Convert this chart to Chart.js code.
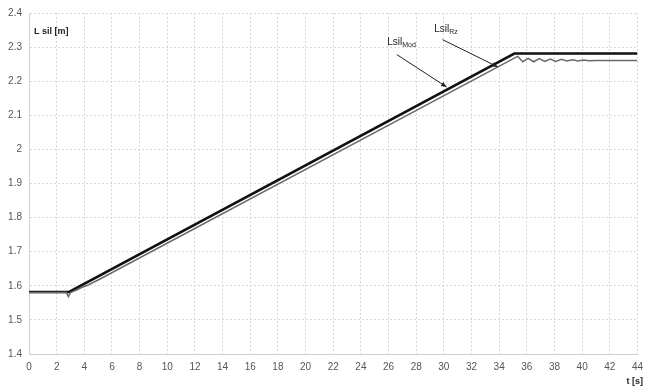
<!DOCTYPE html>
<html>
<head>
<meta charset="utf-8">
<script src="https://cdn.jsdelivr.net/npm/chart.js@4.4.1/dist/chart.umd.min.js"></script>
<style>
  html, body { margin: 0; padding: 0; background: #fff; }
  #wrap { width: 650px; height: 389px; }
</style>
</head>
<body>
<div id="wrap"><canvas id="myChart"></canvas></div>
<script>
// L sil model (black line)
var tMod = [0, 2.9, 35.1, 44];
var lMod = [1.582, 1.582, 2.281, 2.281];

// L sil measured (grey line)
var tRz = [0, 2.7, 2.85, 3.0, 3.4, 3.8, 4.2, 4.6, 5.0, 35.2, 35.35, 35.7, 36.1, 36.5, 36.9, 37.3, 37.7, 38.1, 38.5, 38.9, 39.3, 39.7, 40.1, 40.5, 41.0, 44];
var lRz = [1.580, 1.580, 1.568, 1.580, 1.587, 1.595, 1.601, 1.609, 1.617, 2.270, 2.273, 2.257, 2.267, 2.257, 2.266, 2.258, 2.265, 2.258, 2.264, 2.259, 2.263, 2.259, 2.262, 2.260, 2.261, 2.261];

var xTicks = [0, 2, 4, 6, 8, 10, 12, 14, 16, 18, 20, 22, 24, 26, 28, 30, 32, 34, 36, 38, 40, 42, 44];

// label positions [t, L] and arrow [from t, from L, to t, to L]
var labels = [
  {main: 'Lsil', sub: 'Mod', at: [25.9, 2.305], arrow: [26.6, 2.278, 30.2, 2.183]},
  {main: 'Lsil', sub: 'Rz', at: [29.3, 2.345], arrow: [29.9, 2.322, 33.9, 2.242]}
];

function pts(xs, ys) {
  var out = [];
  for (var i = 0; i < xs.length; i++) out.push({x: xs[i], y: ys[i]});
  return out;
}

var notes = {
  id: 'notes',
  afterDatasetsDraw: function(chart) {
    var ctx = chart.ctx, xs = chart.scales.x, ys = chart.scales.y;
    ctx.save();
    ctx.fillStyle = '#222';
    ctx.font = 'bold 9px Arial, "Liberation Sans", sans-serif';
    ctx.textBaseline = 'alphabetic';
    ctx.fillText('L sil [m]', chart.chartArea.left + 5, 34);
    ctx.textAlign = 'right';
    ctx.fillText('t [s]', 643, 384);
    ctx.textAlign = 'left';
    labels.forEach(function(l) {
      var x = xs.getPixelForValue(l.at[0]), y = ys.getPixelForValue(l.at[1]);
      ctx.font = '10px Arial, "Liberation Sans", sans-serif';
      ctx.fillStyle = '#222';
      ctx.fillText(l.main, x, y);
      var w = ctx.measureText(l.main).width;
      ctx.font = '7px Arial, "Liberation Sans", sans-serif';
      ctx.fillText(l.sub, x + w, y + 2);
      var x1 = xs.getPixelForValue(l.arrow[0]), y1 = ys.getPixelForValue(l.arrow[1]);
      var x2 = xs.getPixelForValue(l.arrow[2]), y2 = ys.getPixelForValue(l.arrow[3]);
      ctx.strokeStyle = '#222';
      ctx.lineWidth = 1;
      ctx.beginPath();
      ctx.moveTo(x1, y1);
      ctx.lineTo(x2, y2);
      ctx.stroke();
      var a = Math.atan2(y2 - y1, x2 - x1);
      ctx.beginPath();
      ctx.moveTo(x2, y2);
      ctx.lineTo(x2 - 6 * Math.cos(a - 0.4), y2 - 6 * Math.sin(a - 0.4));
      ctx.lineTo(x2 - 6 * Math.cos(a + 0.4), y2 - 6 * Math.sin(a + 0.4));
      ctx.closePath();
      ctx.fill();
    });
    ctx.restore();
  }
};

new Chart("myChart", {
  type: "line",
  data: {
    datasets: [{
      data: pts(tRz, lRz),
      borderColor: "#6a6a6a",
      borderWidth: 1.5,
      pointRadius: 0,
      tension: 0,
      fill: false,
      label: 'LsilRz'
    }, {
      data: pts(tMod, lMod),
      borderColor: "#111",
      borderWidth: 2.5,
      pointRadius: 0,
      tension: 0,
      fill: false,
      label: 'LsilMod'
    }]
  },
  options: {
    responsive: true,
    maintainAspectRatio: false,
    animation: false,
    layout: {padding: {top: 8, right: 5, left: 0, bottom: 0}},
    plugins: {legend: {display: false}, tooltip: {enabled: false}},
    scales: {
      x: {
        type: 'linear',
        min: 0, max: 44,
        afterBuildTicks: function(s) { s.ticks = xTicks.map(function(v) { return {value: v}; }); },
        afterFit: function(s) { s.height = 35; },
        grid: {color: '#d8d8d8', drawTicks: false},
        border: {color: '#cfcfcf', dash: [2, 2]},
        ticks: {color: '#555', font: {size: 10, family: 'Arial'}, padding: 7, maxRotation: 0}
      },
      y: {
        min: 1.4, max: 2.4,
        afterFit: function(s) { s.width = 29; },
        grid: {color: '#d8d8d8', drawTicks: false},
        border: {color: '#cfcfcf', dash: [2, 2]},
        ticks: {stepSize: 0.1, color: '#555', font: {size: 10, family: 'Arial'}, padding: 7,
          callback: function(v) { return Math.round(v * 10) / 10; }}
      }
    }
  },
  plugins: [notes]
});
</script>
</body>
</html>
